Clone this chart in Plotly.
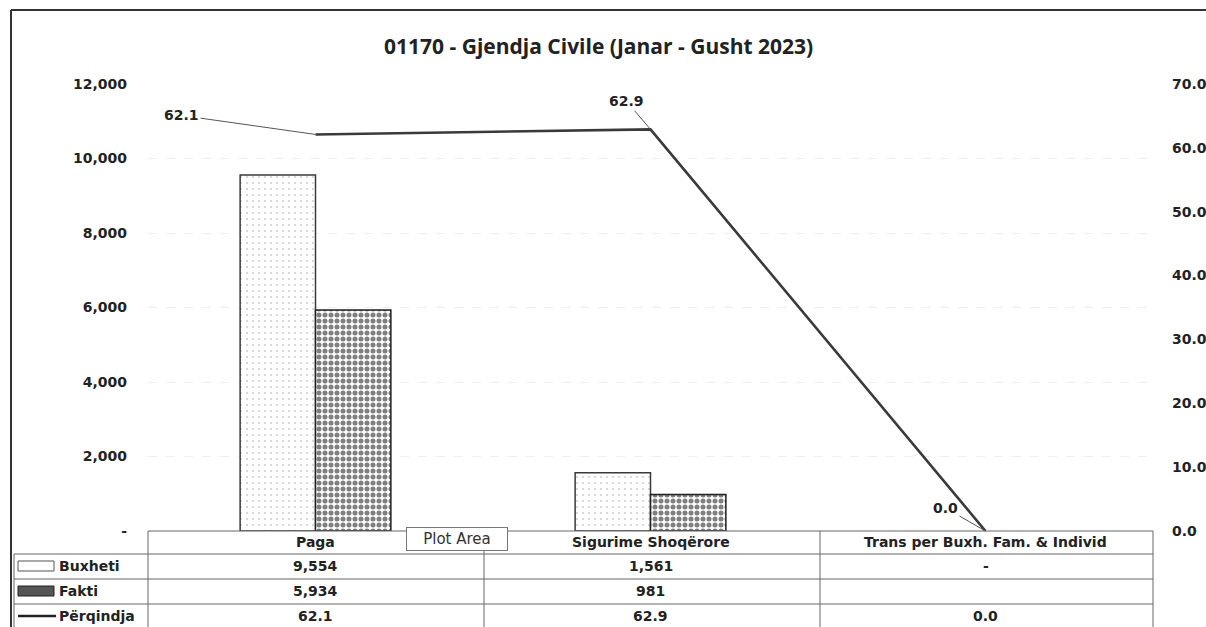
import plotly.graph_objects as go

# ---------------- data ----------------
title_text = "01170 - Gjendja Civile (Janar - Gusht 2023)"
categories = ["Paga", "Sigurime Shoqërore", "Trans per Buxh. Fam. & Individ"]
buxheti = [9554, 1561, 0]
fakti = [5934, 981, None]
perqindja = [62.1, 62.9, 0.0]
series_names = ["Buxheti", "Fakti", "Përqindja"]
left_tickvals = [0, 2000, 4000, 6000, 8000, 10000, 12000]
left_ticktext = ["-", "2,000", "4,000", "6,000", "8,000", "10,000", "12,000"]
right_tickvals = [0, 10, 20, 30, 40, 50, 60, 70]
right_ticktext = ["0.0", "10.0", "20.0", "30.0", "40.0", "50.0", "60.0", "70.0"]
buxheti_text = ["9,554", "1,561", "-"]
fakti_text = ["5,934", "981", ""]
perqindja_text = ["62.1", "62.9", "0.0"]

# ---------------- geometry helpers (pixel -> paper) ----------------
W, H = 1206, 627
L, R, T, B = 148, 1153, 84, 531


def px(x):
    return (x - L) / (R - L)


def py(y):
    return (B - y) / (B - T)


FONT = "DejaVu Sans"
DARK = "#333333"
TXT = "#222222"

fig = go.Figure()

fig.add_trace(go.Bar(
    x=categories, y=buxheti, name=series_names[0],
    marker=dict(color="white",
                line=dict(color="#3a3a3a",
                          width=[1.5 if v else 0 for v in buxheti]),
                pattern=dict(shape=".", fgcolor="#a0a0a0", bgcolor="white",
                             size=6, solidity=0.1)),
    showlegend=False,
))
fig.add_trace(go.Bar(
    x=categories, y=fakti, name=series_names[1],
    marker=dict(color="white",
                line=dict(color="#222222", width=1.5),
                pattern=dict(shape=".", fgcolor="#000000", bgcolor="white",
                             size=6, solidity=0.55)),
    showlegend=False,
))
fig.add_trace(go.Scatter(
    x=categories, y=perqindja, name=series_names[2], yaxis="y2",
    mode="lines", line=dict(color="#3a3a3a", width=2.6),
    showlegend=False, cliponaxis=False,
))

# ---------------- data labels on the line ----------------
label_offsets = [(-134, -19), (-24, -28), (-40, -23)]
annotations = []
for cat, val, txt, (ax, ay) in zip(categories, perqindja, perqindja_text, label_offsets):
    annotations.append(dict(
        x=cat, y=val, xref="x", yref="y2", text="<b>" + txt + "</b>",
        showarrow=True, arrowhead=0, arrowwidth=1, arrowcolor="#555555",
        ax=ax, ay=ay, font=dict(family=FONT, size=14, color=TXT),
    ))

# ---------------- data table ----------------
TFONT = dict(family=FONT, size=14, color=TXT)
row_y = [542, 566, 591, 616]
for cat in categories:
    annotations.append(dict(x=cat, xref="x", y=py(row_y[0]), yref="paper",
                            xanchor="center", yanchor="middle",
                            text="<b>" + cat + "</b>", showarrow=False, font=TFONT))
for row, texts in zip(row_y[1:], [buxheti_text, fakti_text, perqindja_text]):
    for cat, txt in zip(categories, texts):
        if txt:
            annotations.append(dict(x=cat, xref="x", y=py(row), yref="paper",
                                    xanchor="center", yanchor="middle",
                                    text="<b>" + txt + "</b>", showarrow=False,
                                    font=TFONT))
for row, name in zip(row_y[1:], series_names):
    annotations.append(dict(x=px(57), xref="paper", y=py(row), yref="paper",
                            text="<b>" + name + "</b>", showarrow=False,
                            xanchor="left", yanchor="middle", font=TFONT))

# Excel "Plot Area" tooltip
annotations.append(dict(x=px(457), xref="paper", y=py(539), yref="paper",
                        xanchor="center", yanchor="middle",
                        text="Plot Area", showarrow=False,
                        width=96, height=18, align="center",
                        font=dict(family="DejaVu Sans", size=15, color="#333333"),
                        bgcolor="white", bordercolor="#777777", borderwidth=1,
                        borderpad=2))

# title
annotations.append(dict(x=px(598), xref="paper", y=py(46), yref="paper",
                        xanchor="center", yanchor="middle",
                        text="<b>" + title_text + "</b>", showarrow=False,
                        font=dict(family="Open Sans", size=21, color=TXT)))

shapes = []
LINE = dict(color="#666666", width=1)
# outer frame
shapes.append(dict(type="line", xref="paper", yref="paper",
                   x0=px(11), x1=px(1206), y0=py(10), y1=py(10),
                   line=dict(color=DARK, width=2)))
shapes.append(dict(type="line", xref="paper", yref="paper",
                   x0=px(11), x1=px(11), y0=py(10), y1=py(627),
                   line=dict(color=DARK, width=2)))
# table lines
shapes.append(dict(type="line", xref="paper", yref="paper",
                   x0=px(148), x1=px(1153), y0=py(531), y1=py(531), line=LINE))
for yy in [554, 579, 604]:
    shapes.append(dict(type="line", xref="paper", yref="paper",
                       x0=px(14), x1=px(1153), y0=py(yy), y1=py(yy), line=LINE))
for xx in [148, 484, 820, 1153]:
    shapes.append(dict(type="line", xref="paper", yref="paper",
                       x0=px(xx), x1=px(xx), y0=py(531), y1=py(627), line=LINE))
shapes.append(dict(type="line", xref="paper", yref="paper",
                   x0=px(14), x1=px(14), y0=py(554), y1=py(627), line=LINE))
# legend keys in the table
shapes.append(dict(type="rect", xref="paper", yref="paper",
                   x0=px(18), x1=px(54), y0=py(571), y1=py(561),
                   line=dict(color="#555555", width=1), fillcolor="white"))
shapes.append(dict(type="rect", xref="paper", yref="paper",
                   x0=px(18), x1=px(54), y0=py(596), y1=py(586),
                   line=dict(color="#222222", width=1), fillcolor="#555555"))
shapes.append(dict(type="line", xref="paper", yref="paper",
                   x0=px(18), x1=px(56), y0=py(616), y1=py(616),
                   line=dict(color="#222222", width=2.5)))

fig.update_layout(
    width=W, height=H, autosize=False,
    margin=dict(l=L, r=W - R, t=T, b=H - B, autoexpand=False),
    paper_bgcolor="white", plot_bgcolor="white",
    barmode="group", bargap=0.55, bargroupgap=0,
    showlegend=False,
    xaxis=dict(type="category", categoryorder="array", categoryarray=categories,
               showticklabels=False, showgrid=False, zeroline=False,
               showline=False, ticks="", automargin=False),
    yaxis=dict(range=[0, 12000], tickvals=left_tickvals, ticktext=left_ticktext,
               showgrid=True, gridcolor="#f0f0f0", griddash="dash", gridwidth=1,
               zeroline=False, showline=False, ticks="", automargin=False,
               ticklabelstandoff=20,
               tickfont=dict(family=FONT, size=14, color=TXT, weight="bold")),
    yaxis2=dict(range=[0, 70], overlaying="y", side="right",
                tickvals=right_tickvals, ticktext=right_ticktext,
                showgrid=False, zeroline=False, showline=False, ticks="",
                automargin=False, ticklabelstandoff=18,
                tickfont=dict(family=FONT, size=14, color=TXT, weight="bold")),
    annotations=annotations,
    shapes=shapes,
)

fig.write_html("out.html", config={"displayModeBar": False},
               post_script="document.body.style.margin='0';")
